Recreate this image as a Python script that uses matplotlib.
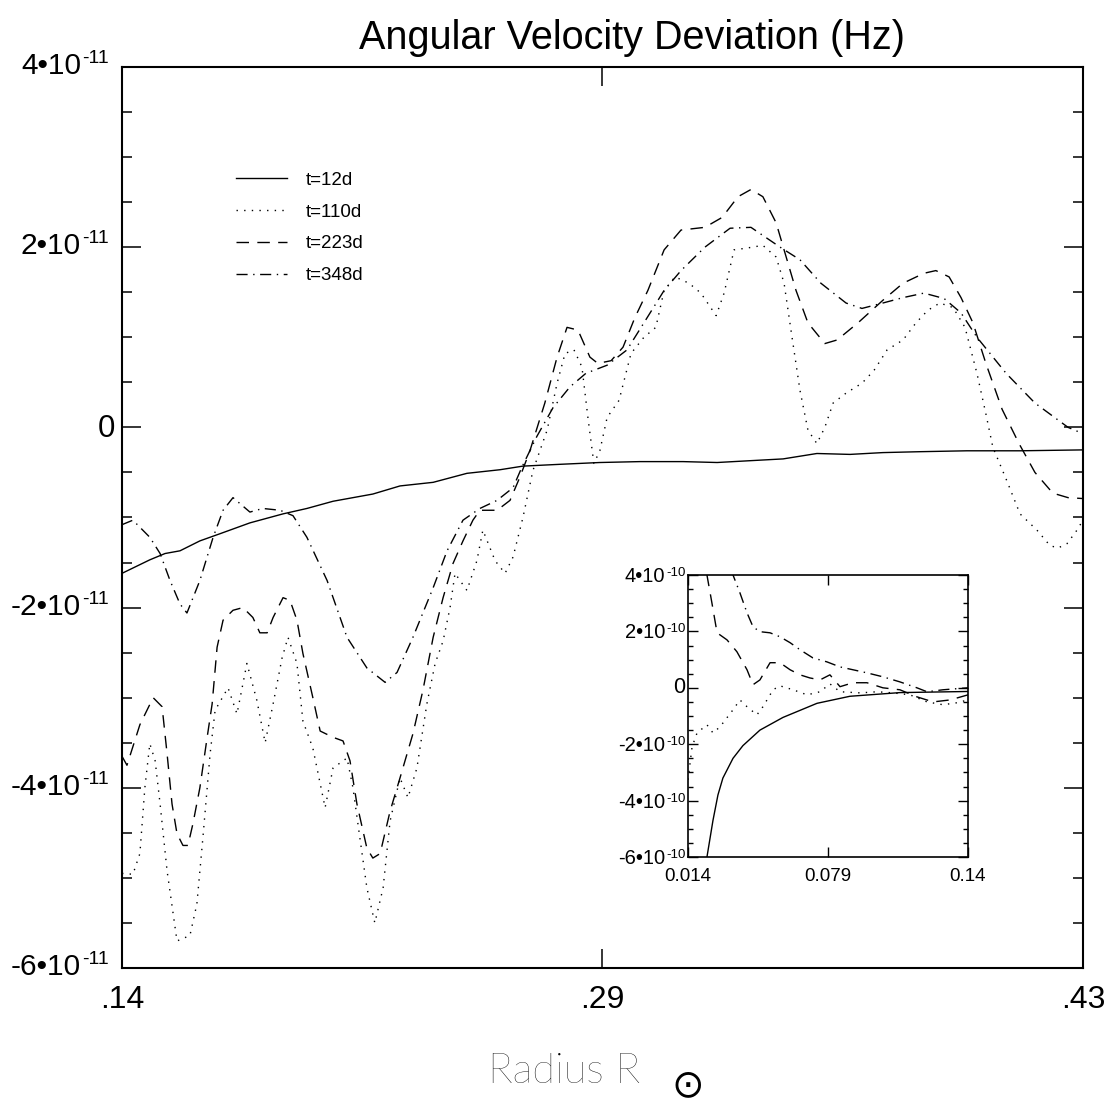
import matplotlib
matplotlib.use("Agg")
import matplotlib.pyplot as plt
from matplotlib.transforms import offset_copy
import numpy as np

plt.rcParams.update({
    "font.family": ["Liberation Sans", "DejaVu Sans"],
    "axes.unicode_minus": False,
})

# ---- main panel: radius (R_sun) and deviation (units of 1e-11 Hz) ----
r_12 = [0.1400, 0.1484, 0.1530, 0.1575, 0.1635, 0.1696, 0.1786, 0.1886, 0.1958, 0.2037,
        0.2157, 0.2239, 0.2339, 0.2441, 0.2541, 0.2610, 0.2722, 0.2842, 0.2963, 0.3093,
        0.3196, 0.3295, 0.3395, 0.3497, 0.3597, 0.3696, 0.3808, 0.3950, 0.4110, 0.4300]
w_12 = [-1.62, -1.47, -1.40, -1.37, -1.26, -1.18, -1.06, -0.96, -0.90, -0.82,
        -0.74, -0.65, -0.61, -0.51, -0.47, -0.43, -0.41, -0.39, -0.38, -0.38,
        -0.39, -0.37, -0.35, -0.29, -0.30, -0.28, -0.27, -0.26, -0.26, -0.25]

r_110 = [0.1400, 0.1433, 0.1454, 0.1469, 0.1484, 0.1500, 0.1515, 0.1536, 0.1566, 0.1605,
         0.1626, 0.1644, 0.1666, 0.1681, 0.1720, 0.1747, 0.1777, 0.1807, 0.1832, 0.1856,
         0.1883, 0.1901, 0.1928, 0.1946, 0.1976, 0.2013, 0.2037, 0.2079, 0.2097, 0.2118,
         0.2139, 0.2163, 0.2188, 0.2209, 0.2239, 0.2263, 0.2290, 0.2320, 0.2345, 0.2369,
         0.2390, 0.2405, 0.2441, 0.2471, 0.2489, 0.2526, 0.2556, 0.2580, 0.2610, 0.2640,
         0.2661, 0.2683, 0.2713, 0.2737, 0.2764, 0.2788, 0.2806, 0.2824, 0.2842, 0.2864,
         0.2900, 0.2936, 0.2975, 0.3011, 0.3036, 0.3069, 0.3111, 0.3147, 0.3193, 0.3217,
         0.3247, 0.3286, 0.3334, 0.3374, 0.3398, 0.3422, 0.3446, 0.3470, 0.3497, 0.3521,
         0.3546, 0.3585, 0.3633, 0.3669, 0.3709, 0.3757, 0.3796, 0.3832, 0.3868, 0.3908,
         0.3944, 0.3980, 0.4007, 0.4028, 0.4071, 0.4110, 0.4161, 0.4200, 0.4224, 0.4252,
         0.4282, 0.4300]
w_110 = [-4.95, -4.96, -4.73, -4.00, -3.51, -3.70, -4.18, -4.92, -5.70, -5.64,
         -5.29, -4.56, -3.62, -3.14, -2.89, -3.18, -2.62, -3.03, -3.50, -3.07,
         -2.56, -2.33, -2.62, -3.26, -3.56, -4.22, -3.78, -3.67, -4.00, -4.56,
         -5.11, -5.50, -5.11, -4.37, -3.89, -4.11, -3.78, -3.07, -2.62, -2.37,
         -2.00, -1.62, -1.81, -1.48, -1.14, -1.48, -1.62, -1.44, -1.00, -0.48,
         -0.26, -0.03, 0.49, 0.82, 0.86, 0.67, 0.11, -0.40, -0.26, 0.11,
         0.30, 0.82, 1.00, 1.11, 1.52, 1.67, 1.60, 1.49, 1.24, 1.49,
         1.97, 1.99, 2.02, 1.89, 1.60, 1.00, 0.41, -0.03, -0.18, 0.00,
         0.27, 0.38, 0.49, 0.63, 0.86, 0.97, 1.16, 1.30, 1.38, 1.33,
         1.11, 0.60, 0.15, -0.22, -0.60, -0.96, -1.14, -1.31, -1.34, -1.29,
         -1.14, -1.03]

r_223 = [0.1400, 0.1415, 0.1454, 0.1494, 0.1521, 0.1536, 0.1551, 0.1566, 0.1584, 0.1599,
         0.1614, 0.1635, 0.1657, 0.1672, 0.1687, 0.1705, 0.1735, 0.1765, 0.1795, 0.1816,
         0.1838, 0.1856, 0.1886, 0.1907, 0.1928, 0.1946, 0.1976, 0.1998, 0.2037, 0.2067,
         0.2088, 0.2109, 0.2139, 0.2157, 0.2179, 0.2209, 0.2239, 0.2278, 0.2308, 0.2339,
         0.2369, 0.2399, 0.2429, 0.2459, 0.2480, 0.2532, 0.2571, 0.2601, 0.2631, 0.2676,
         0.2713, 0.2743, 0.2776, 0.2812, 0.2836, 0.2876, 0.2912, 0.2948, 0.2987, 0.3036,
         0.3087, 0.3159, 0.3211, 0.3259, 0.3298, 0.3334, 0.3374, 0.3398, 0.3434, 0.3470,
         0.3521, 0.3558, 0.3621, 0.3696, 0.3757, 0.3820, 0.3856, 0.3896, 0.3932, 0.3968,
         0.4007, 0.4056, 0.4107, 0.4155, 0.4209, 0.4255, 0.4300]
w_223 = [-3.65, -3.75, -3.30, -3.00, -3.10, -3.62, -4.18, -4.51, -4.64, -4.64,
         -4.40, -4.00, -3.44, -3.07, -2.44, -2.14, -2.03, -2.00, -2.11, -2.28,
         -2.28, -2.11, -1.89, -1.92, -2.14, -2.51, -3.00, -3.37, -3.44, -3.48,
         -3.70, -4.18, -4.67, -4.78, -4.73, -4.26, -3.89, -3.40, -2.92, -2.33,
         -1.89, -1.51, -1.26, -1.03, -0.92, -0.92, -0.81, -0.55, -0.26, 0.27,
         0.78, 1.11, 1.08, 0.78, 0.71, 0.74, 0.89, 1.22, 1.52, 1.97,
         2.19, 2.22, 2.33, 2.56, 2.64, 2.56, 2.27, 1.97, 1.52, 1.16,
         0.93, 0.97, 1.16, 1.41, 1.60, 1.71, 1.74, 1.67, 1.44, 1.16,
         0.71, 0.20, -0.18, -0.50, -0.73, -0.78, -0.79]

r_348 = [0.1400, 0.1433, 0.1484, 0.1515, 0.1545, 0.1575, 0.1596, 0.1635, 0.1675, 0.1705,
         0.1735, 0.1786, 0.1825, 0.1877, 0.1916, 0.1958, 0.2019, 0.2079, 0.2139, 0.2194,
         0.2230, 0.2278, 0.2339, 0.2381, 0.2429, 0.2480, 0.2532, 0.2580, 0.2607, 0.2652,
         0.2701, 0.2752, 0.2800, 0.2864, 0.2924, 0.2975, 0.3036, 0.3087, 0.3159, 0.3235,
         0.3298, 0.3334, 0.3386, 0.3446, 0.3509, 0.3585, 0.3633, 0.3696, 0.3757, 0.3820,
         0.3881, 0.3932, 0.3980, 0.4068, 0.4155, 0.4255, 0.4300]
w_348 = [-1.08, -1.03, -1.22, -1.40, -1.70, -1.96, -2.06, -1.70, -1.22, -0.92,
         -0.78, -0.94, -0.90, -0.92, -0.98, -1.22, -1.70, -2.33, -2.67, -2.83,
         -2.72, -2.33, -1.78, -1.37, -1.03, -0.90, -0.81, -0.67, -0.44, -0.10,
         0.22, 0.45, 0.60, 0.69, 0.86, 1.16, 1.52, 1.74, 2.00, 2.21,
         2.22, 2.13, 2.00, 1.86, 1.60, 1.38, 1.32, 1.38, 1.44, 1.49,
         1.43, 1.27, 1.00, 0.60, 0.27, 0.00, -0.07]

# ---- inset: inner core (units of 1e-10 Hz) ----
ri_12 = [0.0205, 0.0228, 0.0256, 0.0279, 0.0302, 0.0349, 0.0395, 0.0474, 0.0581, 0.0739,
         0.0892, 0.1124, 0.1440]
wi_12 = [-7.5, -6.0, -4.7, -3.8, -3.2, -2.5, -2.05, -1.5, -1.05, -0.55,
         -0.30, -0.17, -0.13]

ri_110 = [0.0140, 0.0159, 0.0182, 0.0228, 0.0256, 0.0289, 0.0349, 0.0381, 0.0414, 0.0460,
          0.0488, 0.0535, 0.0567, 0.0628, 0.0693, 0.0753, 0.0799, 0.0846, 0.0939, 0.1018,
          0.1092, 0.1171, 0.1250, 0.1324, 0.1389, 0.1440]
wi_110 = [-3.26, -2.09, -1.60, -1.31, -1.60, -1.38, -0.78, -0.43, -0.67, -0.96,
          -0.67, -0.07, 0.07, -0.07, -0.25, -0.14, 0.14, -0.14, -0.18, -0.14,
          -0.18, -0.25, -0.50, -0.60, -0.53, -0.43]

ri_223 = [0.0196, 0.0228, 0.0251, 0.0275, 0.0321, 0.0367, 0.0414, 0.0442, 0.0474, 0.0521,
          0.0567, 0.0614, 0.0660, 0.0706, 0.0753, 0.0799, 0.0846, 0.0906, 0.0971, 0.1045,
          0.1124, 0.1203, 0.1278, 0.1357, 0.1440]
wi_223 = [5.5, 4.0, 3.01, 1.95, 1.70, 1.28, 0.64, 0.11, 0.28, 0.89,
          0.89, 0.64, 0.46, 0.35, 0.28, 0.46, 0.04, 0.18, 0.18, 0.00,
          -0.07, -0.32, -0.50, -0.43, -0.25]

ri_348 = [0.0326, 0.0349, 0.0381, 0.0414, 0.0442, 0.0474, 0.0521, 0.0567, 0.0614, 0.0660,
          0.0720, 0.0785, 0.0846, 0.0906, 0.0971, 0.1045, 0.1124, 0.1203, 0.1250, 0.1324,
          0.1440]
wi_348 = [5.0, 4.0, 3.37, 2.66, 2.16, 1.99, 1.95, 1.81, 1.60, 1.35,
          1.06, 0.92, 0.74, 0.64, 0.53, 0.39, 0.21, 0.00, -0.14, -0.07,
          0.00]

labels = ["t=12d", "t=110d", "t=223d", "t=348d"]
styles = ["-", (0, (1, 4.5)), (0, (9, 6)), (0, (8, 4, 1, 4))]

main_x_ticks = [0.14, 0.285, 0.43]
main_x_labels = [".14", ".29", ".43"]
main_y_ticks = [-6, -4, -2, 0, 2, 4]
inset_x_ticks = [0.014, 0.079, 0.144]
inset_x_labels = ["0.014", "0.079", "0.14"]
inset_y_ticks = [-6, -4, -2, 0, 2, 4]


def power_labels(a, ticks, scale, exp, size, exp_size, base_off, exp_off, zero_off):
    """IDL-style 'n•10^exp' labels drawn left of the y axis (offsets in pixels)."""
    tr = a.get_yaxis_transform()
    for v in ticks:
        y = v * scale
        if v == 0:
            a.text(0, y, "0", ha="right", va="baseline", fontsize=size + 1,
                   transform=offset_copy(tr, x=zero_off[0], y=zero_off[1], units="dots"))
            continue
        a.text(0, y, f"{v}•10", ha="right", va="baseline", fontsize=size,
               transform=offset_copy(tr, x=base_off[0], y=base_off[1], units="dots"))
        a.text(0, y, f"-{exp}", ha="left", va="baseline", fontsize=exp_size,
               transform=offset_copy(tr, x=exp_off[0], y=exp_off[1], units="dots"))


fig = plt.figure(figsize=(11.07, 11.03), dpi=100)
ax = fig.add_axes([0.1102, 0.1224, 0.8681, 0.8169])

series = [(r_12, w_12), (r_110, w_110), (r_223, w_223), (r_348, w_348)]
for (r, w), lab, ls in zip(series, labels, styles):
    ax.plot(r, np.array(w) * 1e-11, color="black", lw=1.0, ls=ls, label=lab)

ax.set_xlim(0.14, 0.43)
ax.set_ylim(-6e-11, 4e-11)
ax.set_xticks(main_x_ticks)
ax.set_xticklabels(main_x_labels)
ax.set_yticks(np.array(main_y_ticks) * 1e-11)
ax.set_yticks(np.arange(-6, 4.01, 0.5) * 1e-11, minor=True)
ax.tick_params(axis="both", which="major", direction="in", top=True, right=True,
               length=14, width=1.1, labelsize=23)
ax.tick_params(axis="y", which="major", labelleft=False)
ax.tick_params(axis="x", which="major", pad=12)
ax.tick_params(axis="y", which="minor", direction="in", right=True, length=7, width=1.1)
for sp in ax.spines.values():
    sp.set_linewidth(1.5)
power_labels(ax, main_y_ticks, 1e-11, 11, 21.5, 14,
             base_off=(-41, -7), exp_off=(-40, 4), zero_off=(-7, -10))

ax.legend(loc="upper left", bbox_to_anchor=(0.1186, 0.884), frameon=False,
          fontsize=13.5, handlelength=2.7, handletextpad=1.0, labelspacing=0.79,
          borderpad=0, borderaxespad=0)

fig.text(0.571, 0.9556, "Angular Velocity Deviation (Hz)", ha="center", va="baseline",
         fontsize=28.5)
fig.text(0.4408, 0.0181, "Radius R", ha="left", va="baseline", fontsize=30,
         family="Lato", fontweight="light")
fig.text(688 / 1107, 0.0160, "\u2299", ha="center", va="center", fontsize=28,
         family="DejaVu Sans")

# inset
axi = fig.add_axes([0.6215, 0.2230, 0.2529, 0.2557])
iseries = [(ri_12, wi_12), (ri_110, wi_110), (ri_223, wi_223), (ri_348, wi_348)]
for (r, w), ls in zip(iseries, styles):
    axi.plot(r, np.array(w) * 1e-10, color="black", lw=1.0, ls=ls)
axi.set_xlim(0.014, 0.144)
axi.set_ylim(-6e-10, 4e-10)
axi.set_xticks(inset_x_ticks)
axi.set_xticklabels(inset_x_labels)
axi.set_yticks(np.array(inset_y_ticks) * 1e-10)
axi.set_yticks(np.arange(-6, 4.01, 0.5) * 1e-10, minor=True)
axi.tick_params(axis="both", which="major", direction="in", top=True, right=True,
                length=7, width=1.0, labelsize=13.5, pad=8)
axi.tick_params(axis="y", which="major", labelleft=False)
axi.tick_params(axis="y", which="minor", direction="in", right=True, length=3.5, width=1.0)
for sp in axi.spines.values():
    sp.set_linewidth(1.2)
power_labels(axi, inset_y_ticks, 1e-10, 10, 14.5, 9.5,
             base_off=(-23, -7), exp_off=(-22, -1), zero_off=(-3, -5))

fig.savefig("out.png", dpi=100)
